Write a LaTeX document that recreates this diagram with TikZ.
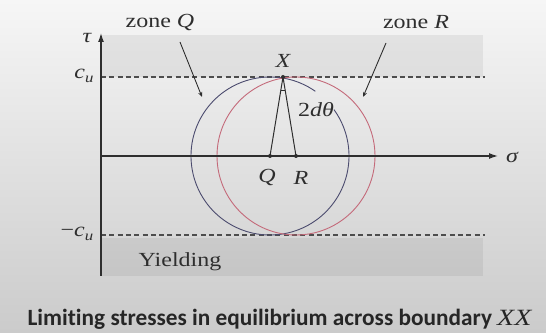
\documentclass[tikz,border=0pt]{standalone}
\usepackage{fontspec}
\newfontfamily\capfont[Ligatures=NoCommon]{Carlito}
\newfontfamily\lblfont[FakeStretch=1.2]{Liberation Serif}
\usetikzlibrary{arrows.meta}
\definecolor{bgtop}{HTML}{F6F6F6}
\definecolor{bgbot}{HTML}{CBCBCB}
\definecolor{qcol}{HTML}{4B4B6E}
\definecolor{rcol}{HTML}{C46A7A}
\definecolor{inkc}{HTML}{2E2E2E}
\newcommand{\vi}[1]{{\itshape #1}}
\newcommand{\subu}{\raisebox{-4pt}{\fontsize{14}{16}\selectfont\vi{u}}}
\tikzset{
  lbl/.style={text=inkc, font=\lblfont\fontsize{20}{24}\selectfont, inner sep=0pt},
  axisline/.style={draw=inkc, line width=1.3pt, -{Latex[length=9pt,width=6pt]}},
  limitline/.style={draw=inkc!85, line width=1.1pt, dash pattern=on 5pt off 3.3pt},
  zonearrow/.style={draw=inkc, line width=0.9pt, -{Stealth[length=5pt,width=4pt]}},
  band/.style={fill=black, fill opacity=0.06, draw=none},
  dotmark/.style={fill=inkc, draw=none},
}
\begin{document}
\begin{tikzpicture}[x=1pt,y=1pt]
\useasboundingbox (0,0) rectangle (546,332);
\shade[top color=bgtop, bottom color=bgbot] (0,0) rectangle (546,332);
% bands
\fill[band] (100,255) rectangle (483,297);
\fill[band] (100,56) rectangle (483,94);
% key points
\coordinate (O) at (101,176);
\coordinate (Ttop) at (101,299);
\coordinate (Tbot) at (101,56);
\coordinate (Send) at (498,176);
\coordinate (Cl) at (101,255);
\coordinate (Cr) at (485,255);
\coordinate (Ml) at (101,97);
\coordinate (Mr) at (485,97);
\coordinate (Q) at (270,176);
\coordinate (R) at (296,176);
\coordinate (X) at (283,255);
% limit lines
\draw[limitline] (Cl) -- (Cr);
\draw[limitline] (Ml) -- (Mr);
% circles
\draw[qcol, line width=0.9pt] ([shift={(55:79)}]Q) arc[start angle=55, end angle=396, radius=79];
\draw[rcol, line width=0.9pt] (R) circle[radius=79];
% axes
\draw[axisline] (Tbot) -- (Ttop);
\draw[axisline] (O) -- (Send);
% radii
\draw[inkc, line width=1pt] (X) -- (Q);
\draw[inkc, line width=1pt] (X) -- (R);
\draw[inkc, line width=0.8pt] ([shift={(-99.3:14)}]X) arc[start angle=-99.3, end angle=-80.7, radius=14];
\fill[dotmark] (Q) circle[radius=2];
\fill[dotmark] (R) circle[radius=2];
\fill[dotmark] (X) circle[radius=2];
% labels
\node[lbl] (tau) at (87,294) {\vi{τ}};
\node[lbl] (sig) at (512,175) {\vi{σ}};
\node[lbl] (cu) at (84,256) {\vi{c}\subu};
\node[lbl] (mcu) at (77,98) {−\vi{c}\subu};
\node[lbl] (xl) at (283,271) {\vi{X}};
\node[lbl] (ql) at (267,154) {\vi{Q}};
\node[lbl] (rl) at (301,154) {\vi{R}};
\node[lbl] (dth) at (316,222) {2\vi{dθ}};
\node[lbl] (zq) at (160,309) {zone \vi{Q}};
\node[lbl] (zr) at (416,310) {zone \vi{R}};
\node[lbl] (yl) at (180,70) {Yielding};
\coordinate (zqa) at (180,290);
\coordinate (zqb) at (202,235);
\coordinate (zra) at (386,289);
\coordinate (zrb) at (363,235);
\draw[zonearrow] (zqa) -- (zqb);
\draw[zonearrow] (zra) -- (zrb);
\node[text=black!85, font=\capfont\bfseries\fontsize{23.3}{27}\selectfont, anchor=base, inner sep=0pt] (cap) at (279.5,7) {Limiting stresses in equilibrium across boundary {\lblfont\mdseries\itshape XX}};
\end{tikzpicture}
\end{document}
